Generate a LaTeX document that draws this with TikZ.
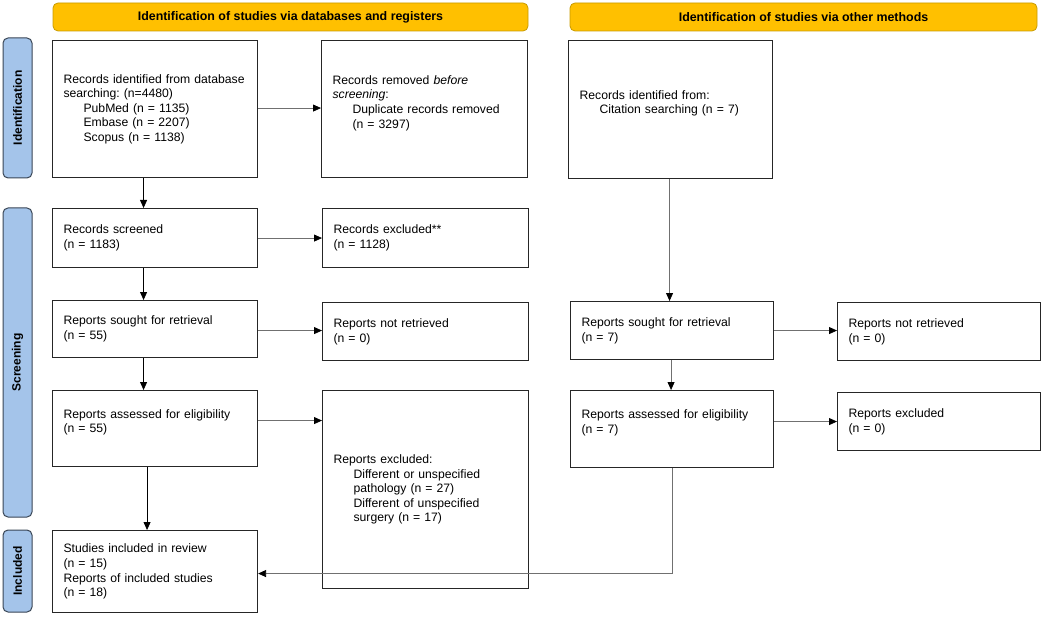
\documentclass[tikz,border=0pt]{standalone}
\usepackage{fontspec}
\setmainfont{Liberation Sans}
\usetikzlibrary{arrows.meta}
\frenchspacing
\definecolor{bannerfill}{HTML}{FFC000}
\definecolor{bannerdraw}{HTML}{C89B00}
\definecolor{sidefill}{HTML}{A4C4EA}
\definecolor{sidedraw}{HTML}{3A4656}
\definecolor{linegray}{HTML}{707070}
\tikzset{
  box/.style={draw=black!85, line width=1.1pt, fill=white, align=left,
    inner xsep=11pt, inner ysep=0pt, anchor=north west,
    font=\fontsize{12.2}{14.6}\selectfont},
  banner/.style={draw=bannerdraw, fill=bannerfill, line width=0.8pt,
    rounded corners=5pt, minimum height=28pt, inner sep=0pt,
    font=\bfseries\fontsize{12.4}{14}\selectfont},
  sidebar/.style={draw=sidedraw, fill=sidefill, line width=1pt,
    rounded corners=5pt, rotate=90, minimum height=29pt, inner sep=0pt,
    font=\bfseries\fontsize{12}{13}\selectfont},
  arr/.style={line width=0.8pt, -{Triangle[length=8pt,width=7pt,color=black]}},
  blk/.style={arr, draw=black},
  gry/.style={arr, draw=linegray},
}
\newcommand{\ind}{\hspace*{20pt}}
\begin{document}
\begin{tikzpicture}[x=1pt,y=-1pt]
\useasboundingbox (0,0) rectangle (1056,617);

% banners
\node[banner, minimum width=475pt] (b1) at (290.5,17) {Identification of studies via databases and registers};
\node[banner, minimum width=467pt] (b2) at (803.5,17) {Identification of studies via other methods};

% side bars
\node[sidebar, minimum width=140pt] (s1) at (17.5,108) {Identification};
\node[sidebar, minimum width=309pt] (s2) at (17.5,362.5) {Screening};
\node[sidebar, minimum width=82pt] (s3) at (17.5,571) {Included};

% left column
\node[box, text width=183pt, minimum height=137pt] (A) at (52,40)
  {Records identified from database\\searching: (n=4480)\\\ind PubMed (n = 1135)\\\ind Embase (n = 2207)\\\ind Scopus (n = 1138)};
\node[box, text width=184pt, minimum height=137pt] (B) at (321,40)
  {Records removed \textit{before}\\\textit{screening}:\\\ind Duplicate records removed\\\ind (n = 3297)\\\mbox{}};
\node[box, text width=183pt, minimum height=59pt] (S) at (52,208)
  {Records screened\\(n = 1183)};
\node[box, text width=184pt, minimum height=59pt] (E) at (322,208)
  {Records excluded**\\(n = 1128)};
\node[box, text width=183pt, minimum height=57pt] (SL) at (52,300)
  {Reports sought for retrieval\\(n = 55)};
\node[box, text width=184pt, minimum height=58pt] (NL) at (322,302)
  {Reports not retrieved\\(n = 0)};
\node[box, text width=183pt, minimum height=76pt] (AL) at (52,390)
  {Reports assessed for eligibility\\(n = 55)\\\mbox{}};
\node[box, text width=184pt, minimum height=198pt] (EL) at (322,390)
  {Reports excluded:\\\ind Different or unspecified\\\ind pathology (n = 27)\\\ind Different of unspecified\\\ind surgery (n = 17)};
\node[box, text width=183pt, minimum height=82pt] (IN) at (52,530)
  {Studies included in review\\(n = 15)\\Reports of included studies\\(n = 18)};

% right column
\node[box, text width=182pt, minimum height=138pt] (C) at (568,40)
  {Records identified from:\\\ind Citation searching (n = 7)\\\mbox{}};
\node[box, text width=181pt, minimum height=58pt] (SR) at (570,301)
  {Reports sought for retrieval\\(n = 7)};
\node[box, text width=181pt, minimum height=58pt] (NR) at (837,302)
  {Reports not retrieved\\(n = 0)};
\node[box, text width=181pt, minimum height=77pt] (AR) at (570,390)
  {Reports assessed for eligibility\\(n = 7)\\\mbox{}};
\node[box, text width=181pt, minimum height=58pt] (ER) at (837,392)
  {Reports excluded\\(n = 0)};

% connectors left
\draw[gry] ([yshift=1pt]A.east) -- ([yshift=1pt]A.east -| B.west);
\draw[blk] ([xshift=-11.5pt]A.south) -- ([xshift=-11.5pt]A.south |- S.north);
\draw[gry] (S.east) -- (S.east -| E.west);
\draw[blk] ([xshift=-11.5pt]S.south) -- ([xshift=-11.5pt]S.south |- SL.north);
\draw[gry] ([yshift=-1.5pt]SL.east) -- ([yshift=-1.5pt]SL.east -| NL.west);
\draw[blk] ([xshift=-11.5pt]SL.south) -- ([xshift=-11.5pt]SL.south |- AL.north);
\draw[gry] ([yshift=8pt]AL.east) -- ([yshift=8pt]AL.east -| EL.west);
\draw[blk] ([xshift=-8pt]AL.south) -- ([xshift=-8pt]AL.south |- IN.north);

% connectors right
\draw[gry] ([xshift=-1pt]C.south) -- ([xshift=-1pt]C.south |- SR.north);
\draw[gry] (SR.east) -- (SR.east -| NR.west);
\draw[gry] ([xshift=-1pt]SR.south) -- ([xshift=-1pt]SR.south |- AR.north);
\draw[gry] (AR.east |- ER.west) -- (ER.west);
\draw[gry] (AR.south) |- ([yshift=-2pt]IN.east);
\end{tikzpicture}
\end{document}
